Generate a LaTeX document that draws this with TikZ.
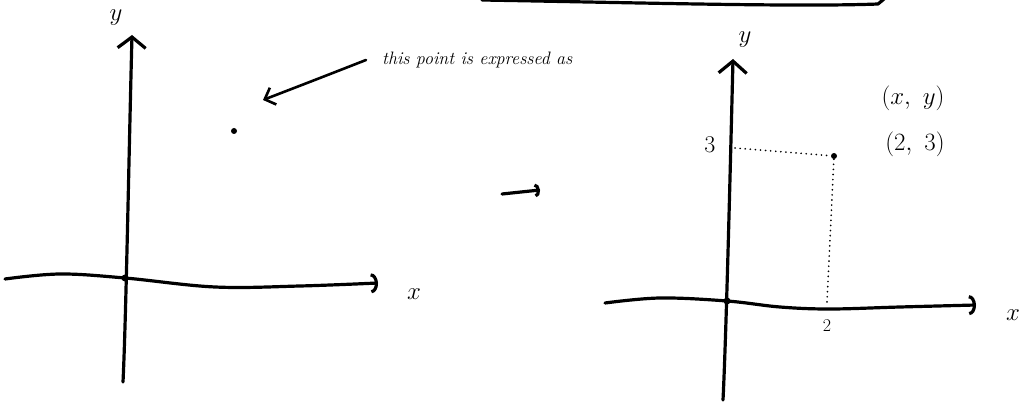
\documentclass[tikz,border=0pt]{standalone}
\usepackage{amsmath}
\usetikzlibrary{arrows.meta}

\begin{document}
\begin{tikzpicture}[x=1pt, y=-1pt,
    axis/.style={line width=3.2pt, line cap=round, line join=round},
    guide/.style={line width=1.8pt, line cap=round, dash pattern=on 0.1pt off 5pt},
    dot/.style={circle, fill=black, inner sep=0pt, minimum size=6pt},
    hand/.style={font=\fontsize{26}{30}\selectfont, inner sep=0pt}]
    \useasboundingbox (0,0) rectangle (1031,403);

    % Stroke cut off at the top edge
    \draw[line width=2pt, gray] (212,-0.5) -- (258,-0.5);
    \draw[axis] (482,0) .. controls (650,3) and (800,7) .. (878,4) -- (884,-1);

    % Left axes
    \coordinate (lo) at (125,278);
    \coordinate (lyb) at (123,382);
    \coordinate (lyt) at (132,35);
    \draw[axis, -{Straight Barb[length=11pt, width=28pt]}] (lyb) .. controls (126,320) and (129,150) .. (lyt);
    \draw[axis, -{Arc Barb[length=7pt, width=20pt]}] plot[smooth, tension=0.6] coordinates {(5,279) (60,274) (lo) (215,287) (300,286) (378,283)};
    \fill (lo) circle (3.5pt);
    \node[hand] (ly) at (116,18) {$y$};
    \node[hand] (lx) at (414,294) {$x$};

    % The point and the note
    \node[dot] (p1) at (234,131) {};
    \node[hand, font=\fontsize{18}{22}\selectfont\itshape, inner xsep=16pt, anchor=west] (note) at (366,60) {this point is expressed as};
    \coordinate (tip) at (263,100);
    \draw[line width=2.6pt, line cap=round, -{Straight Barb[length=9pt, width=18pt]}] (note.west) .. controls (320,78) .. (tip);

    % Arrow between the two pictures
    \coordinate (ma) at (502,194);
    \coordinate (mb) at (540,190);
    \draw[axis, -{Arc Barb[length=5pt, width=14pt]}] (ma) -- (mb);

    % Right axes
    \coordinate (ro) at (727,301);
    \coordinate (ryb) at (723,400);
    \coordinate (ryt) at (733,59);
    \draw[axis, -{Straight Barb[length=12pt, width=28pt]}] (ryb) .. controls (726,340) and (730,180) .. (ryt);
    \draw[axis, -{Arc Barb[length=7pt, width=20pt]}] plot[smooth, tension=0.6] coordinates {(605,303) (660,298) (ro) (780,307) (830,309) (900,307) (976,305)};
    \fill (ro) circle (3.5pt);
    \node[hand] (ry) at (745,40) {$y$};
    \node[hand] (rx) at (1013,315) {$x$};

    % The point (2,3) and its guide lines
    \node[dot] (p2) at (834,156) {};
    \coordinate (t3) at (735,148);
    \coordinate (t2) at (827,302);
    \draw[guide] (t3) -- (p2);
    \draw[guide] (p2) -- (t2);
    \node[hand, font=\fontsize{24}{28}\selectfont] (n3) at (710,145) {3};
    \node[hand, font=\fontsize{18}{22}\selectfont] (n2) at (827,326) {2};
    \node[hand] (gen) at (913,98) {$(x,\ y)$};
    \node[hand] (val) at (915,144) {$(2,\ 3)$};
\end{tikzpicture}
\end{document}
